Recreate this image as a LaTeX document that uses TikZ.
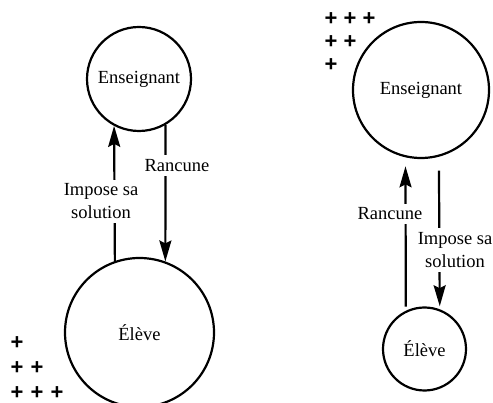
\documentclass[tikz,border=0pt]{standalone}
\usepackage{fontspec}
\setmainfont{Liberation Serif}
\newfontfamily\plusfont{Liberation Sans}
\usetikzlibrary{arrows.meta}
\tikzset{
  circ/.style={draw, circle, line width=2.2pt, inner sep=0pt, font=\fontsize{18.5}{23}\selectfont},
  lbl/.style={fill=white, align=center, inner xsep=2pt, inner ysep=4pt, font=\fontsize{18.5}{23}\selectfont},
  arr/.style={line width=2.2pt, -{Stealth[length=21pt, width=12pt, inset=3pt]}},
  pl/.style={inner sep=0pt, font=\plusfont\bfseries\fontsize{22}{22}\selectfont}
}
\begin{document}
\begin{tikzpicture}[x=1pt, y=-1pt]
\useasboundingbox (0,0) rectangle (493,403);
% left diagram
\node[circ, minimum size=104pt] (E1) at (139,79) {Enseignant};
\node[circ, minimum size=149pt] (L1) at (139.5,332.5) {Élève};
\draw[arr] (L1.109.2) -- (E1.242.5);
\draw[arr] (E1.300) -- (L1.70);
\node[lbl] (t1) at (101,201.5) {Impose sa\\solution};
\node[lbl] (t2) at (177,165.5) {Rancune};
% right diagram
\node[circ, minimum size=136pt] (E2) at (421,90) {Enseignant};
\node[circ, minimum size=83pt] (L2) at (424.5,349) {Élève};
\draw[arr, shorten <=4pt, shorten >=9pt] (L2.116.5) -- (E2.257.3);
\draw[arr, shorten <=14pt, shorten >=3pt] (E2.285.3) -- (L2.69.5);
\node[lbl] (t3) at (390,214) {Rancune};
\node[lbl] (t4) at (455,250) {Impose sa\\solution};
% plus signs
\foreach \r/\n/\y in {1/1/343, 2/2/368, 3/3/393}{
  \foreach \c in {1,...,\n}{
    \node[pl] (pa-\r-\c) at ({17+20*(\c-1)},\y) {+};
  }
}
\foreach \r/\n/\y in {1/3/19, 2/2/42, 3/1/65}{
  \foreach \c in {1,...,\n}{
    \node[pl] (pb-\r-\c) at ({331+19*(\c-1)},\y) {+};
  }
}
\end{tikzpicture}
\end{document}
